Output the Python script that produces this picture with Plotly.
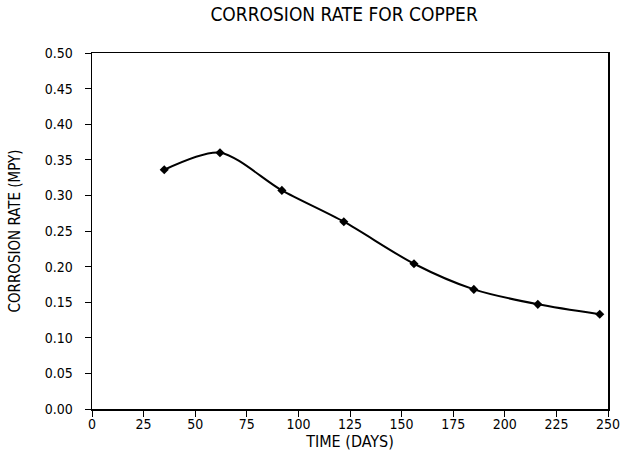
import plotly.graph_objects as go

days = [35, 62, 92, 122, 156, 185, 216, 246]
rate = [0.336, 0.360, 0.307, 0.263, 0.204, 0.168, 0.147, 0.133]
x_ticks = [0, 25, 50, 75, 100, 125, 150, 175, 200, 225, 250]
y_ticks = [0.00, 0.05, 0.10, 0.15, 0.20, 0.25, 0.30, 0.35, 0.40, 0.45, 0.50]

FONT = "DejaVu Sans Condensed, Liberation Sans Narrow, sans-serif"

fig = go.Figure()
fig.add_trace(go.Scatter(
    x=days, y=rate, mode="lines+markers",
    line=dict(color="black", width=2, shape="spline", smoothing=0.8),
    marker=dict(symbol="diamond", size=7, color="black"),
    showlegend=False,
))

fig.update_layout(
    width=620, height=470,
    margin=dict(l=92, r=12, t=53, b=61, autoexpand=False),
    paper_bgcolor="white", plot_bgcolor="white",
    font=dict(family=FONT, color="black", size=14),
    title=dict(text="CORROSION RATE FOR COPPER", x=0.555, xanchor="center",
               xref="container", yref="container",
               y=0.969, yanchor="middle", font=dict(size=19, family=FONT)),
)
fig.update_xaxes(
    range=[0, 250], tickvals=x_ticks, ticktext=[str(v) for v in x_ticks],
    showgrid=False, zeroline=False, showline=True, mirror=True,
    linecolor="black", linewidth=1.5, ticks="outside", ticklen=6,
    tickcolor="black", tickfont=dict(size=14), automargin=False,
    ticklabelstandoff=-4, ticklabeloverflow="allow",
    title=dict(text="TIME (DAYS)", font=dict(size=16), standoff=4),
)
fig.update_yaxes(
    range=[0, 0.5], tickvals=y_ticks, ticktext=[f"{v:.2f}" for v in y_ticks],
    showgrid=False, zeroline=False, showline=True, mirror=True,
    linecolor="black", linewidth=1.5, ticks="outside", ticklen=6,
    tickcolor="black", tickfont=dict(size=14), automargin=False,
    ticklabelstandoff=9,
    title=dict(text="CORROSION RATE (MPY)", font=dict(size=15), standoff=20),
)

fig.write_html("out.html",
               config={"displayModeBar": False, "staticPlot": True},
               post_script="document.body.style.margin='0';document.body.style.overflow='hidden';")
